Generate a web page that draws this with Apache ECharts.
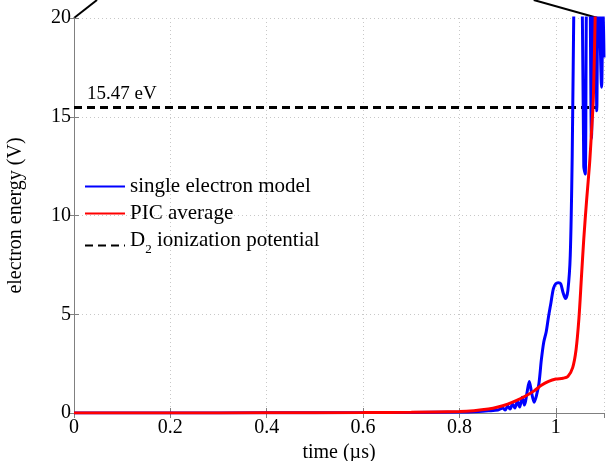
<!DOCTYPE html>
<html>
<head>
<meta charset="utf-8">
<script src="https://cdn.jsdelivr.net/npm/echarts@6/dist/echarts.min.js"></script>
<style>
html, body { margin: 0; padding: 0; background: #fff; }
#box1 { width: 606px; height: 461px; }
</style>
</head>
<body>
<div id="box1"></div>
<script>
var chartDom = document.getElementById('box1');
var myChart = echarts.init(chartDom);
var option;

var FONT = 'Liberation Serif';
var seriesNames = ['single electron model', 'PIC average', 'D2 ionization potential'];

// single electron model
var blueT = [0, 0.2, 0.4, 0.6, 0.7, 0.8, 0.84, 0.86, 0.88, 0.89, 0.895, 0.9, 0.905, 0.91, 0.915, 0.92, 0.925, 0.93, 0.935, 0.94, 0.945, 0.95, 0.955, 0.96, 0.965, 0.97, 0.975, 0.98, 0.985, 0.99, 0.995, 1.0, 1.005, 1.01, 1.015, 1.02, 1.025, 1.03, 1.034, 1.038, 1.045, 1.052, 1.058, 1.061, 1.064, 1.069, 1.074, 1.078, 1.082, 1.085, 1.088, 1.091, 1.095, 1.098, 1.1];
var blueV = [0, 0, 0.01, 0.02, 0.03, 0.05, 0.08, 0.11, 0.15, 0.25, 0.15, 0.35, 0.2, 0.45, 0.25, 0.6, 0.3, 0.8, 0.4, 1.0, 1.6, 1.0, 0.55, 0.9, 1.5, 2.7, 3.6, 4.1, 4.9, 5.6, 6.3, 6.55, 6.6, 6.55, 6.1, 5.8, 6.2, 8, 13, 22, 35, 28, 12.5, 12.1, 22, 25, 13.9, 22, 24, 15.3, 23, 20, 16.5, 21, 18];

// PIC average
var redT = [0, 0.2, 0.4, 0.6, 0.7, 0.8, 0.83, 0.86, 0.88, 0.9, 0.92, 0.94, 0.955, 0.97, 0.985, 1.0, 1.015, 1.025, 1.035, 1.042, 1.048, 1.053, 1.058, 1.064, 1.07, 1.074, 1.078, 1.082, 1.086];
var redV = [0, 0, 0.01, 0.02, 0.04, 0.08, 0.12, 0.2, 0.3, 0.45, 0.65, 0.9, 1.12, 1.4, 1.6, 1.72, 1.76, 1.85, 2.3, 3.2, 4.8, 6.8, 8.8, 10.8, 12.6, 14.2, 16, 20.5, 25];

// D2 ionization potential
var ionT = [0, 1.085];
var ionV = [15.47, 15.47];
var ionLabel = '15.47 eV';

var xTicks = { min: 0, max: 1.1, interval: 0.2 };
var yTicks = { min: 0, max: 20, interval: 5 };

function pairs(t, v) {
    return t.map(function (x, i) { return [x, v[i]]; });
}

var gridLine = { show: true, lineStyle: { color: '#c8c8c8', type: [1, 3], width: 1 } };

option = {
    animation: false,
    grid: { left: 74, right: 2, top: 18, bottom: 48, outerBoundsMode: 'none', containLabel: false },
    legend: {
        orient: 'vertical',
        left: 79,
        top: 171,
        itemWidth: 40,
        itemHeight: 14,
        itemGap: 6,
        data: seriesNames,
        itemStyle: { opacity: 0 },
        textStyle: {
            fontFamily: FONT,
            fontSize: 21,
            color: '#000',
            rich: {
                n: { fontFamily: FONT, fontSize: 21, color: '#000', padding: [0, 0, 10, 0] },
                s: { fontFamily: FONT, fontSize: 13, color: '#000', padding: [8, 0, 0, 0] }
            }
        },
        formatter: function (name) {
            if (name === 'D2 ionization potential') {
                return '{n|D}{s|2}{n| ionization potential}';
            }
            return name;
        }
    },
    xAxis: [{
        type: 'value',
        min: xTicks.min,
        max: xTicks.max,
        interval: xTicks.interval,
        name: 'time (µs)',
        nameLocation: 'middle',
        nameGap: 29,
        nameTextStyle: { fontFamily: FONT, fontSize: 20, color: '#000' },
        axisLine: { onZero: false, lineStyle: { color: '#808080', width: 1 } },
        axisTick: { inside: true, length: 5, lineStyle: { color: '#808080' } },
        axisLabel: { fontFamily: FONT, fontSize: 20, color: '#000', margin: 5, showMaxLabel: false },
        splitLine: gridLine
    }, {
        type: 'value',
        position: 'top',
        min: xTicks.min,
        max: xTicks.max,
        interval: xTicks.interval,
        axisLine: { show: true, lineStyle: { color: '#808080', width: 1 } },
        axisTick: { show: true, inside: true, length: 5, lineStyle: { color: '#808080' } },
        axisLabel: { show: false },
        splitLine: { show: false }
    }],
    yAxis: [{
        type: 'value',
        min: yTicks.min,
        max: yTicks.max,
        interval: yTicks.interval,
        name: 'electron energy (V)',
        nameLocation: 'middle',
        nameGap: 48,
        nameTextStyle: { fontFamily: FONT, fontSize: 20, color: '#000' },
        axisLine: { show: true, lineStyle: { color: '#000', width: 1 } },
        axisTick: { show: true, inside: true, length: 5, lineStyle: { color: '#808080' } },
        axisLabel: { fontFamily: FONT, fontSize: 20, color: '#000', margin: 3 },
        splitLine: gridLine
    }, {
        type: 'value',
        position: 'right',
        min: yTicks.min,
        max: yTicks.max,
        interval: yTicks.interval,
        axisLine: { show: true, lineStyle: { color: '#808080', width: 1 } },
        axisTick: { show: true, inside: true, length: 5, lineStyle: { color: '#808080' } },
        axisLabel: { show: false },
        splitLine: { show: false }
    }],
    series: [{
        name: seriesNames[0],
        type: 'line',
        symbol: 'none',
        smooth: 0.3,
        clip: true,
        lineStyle: { color: '#0000ff', width: 3 },
        itemStyle: { color: '#0000ff' },
        data: pairs(blueT, blueV),
        z: 3
    }, {
        name: seriesNames[1],
        type: 'line',
        symbol: 'none',
        smooth: 0.3,
        clip: true,
        lineStyle: { color: '#ff0000', width: 3 },
        itemStyle: { color: '#ff0000' },
        data: pairs(redT, redV),
        z: 4
    }, {
        name: seriesNames[2],
        type: 'line',
        symbol: 'none',
        lineStyle: { color: '#000', width: 3, type: [8, 5] },
        itemStyle: { color: '#000' },
        data: pairs(ionT, ionV),
        markPoint: {
            symbol: 'rect',
            symbolSize: 0,
            silent: true,
            label: {
                show: true,
                formatter: ionLabel,
                position: [13, -23],
                color: '#000',
                fontFamily: FONT,
                fontSize: 19
            },
            data: [{ coord: [ionT[0], ionV[0]] }]
        },
        z: 2
    }]
};

myChart.setOption(option);

// zoom-indicator lines leaving the top corners of the plot
var tl = myChart.convertToPixel({ gridIndex: 0 }, [xTicks.min, yTicks.max]);
var tr = myChart.convertToPixel({ gridIndex: 0 }, [1.087, yTicks.max]);
myChart.setOption({
    graphic: [{
        type: 'line',
        shape: { x1: tl[0], y1: tl[1], x2: tl[0] + 23, y2: 0 },
        style: { stroke: '#000', lineWidth: 2 }
    }, {
        type: 'line',
        shape: { x1: tr[0], y1: tr[1], x2: tr[0] - 64, y2: 0 },
        style: { stroke: '#000', lineWidth: 2 }
    }]
});
</script>
</body>
</html>
